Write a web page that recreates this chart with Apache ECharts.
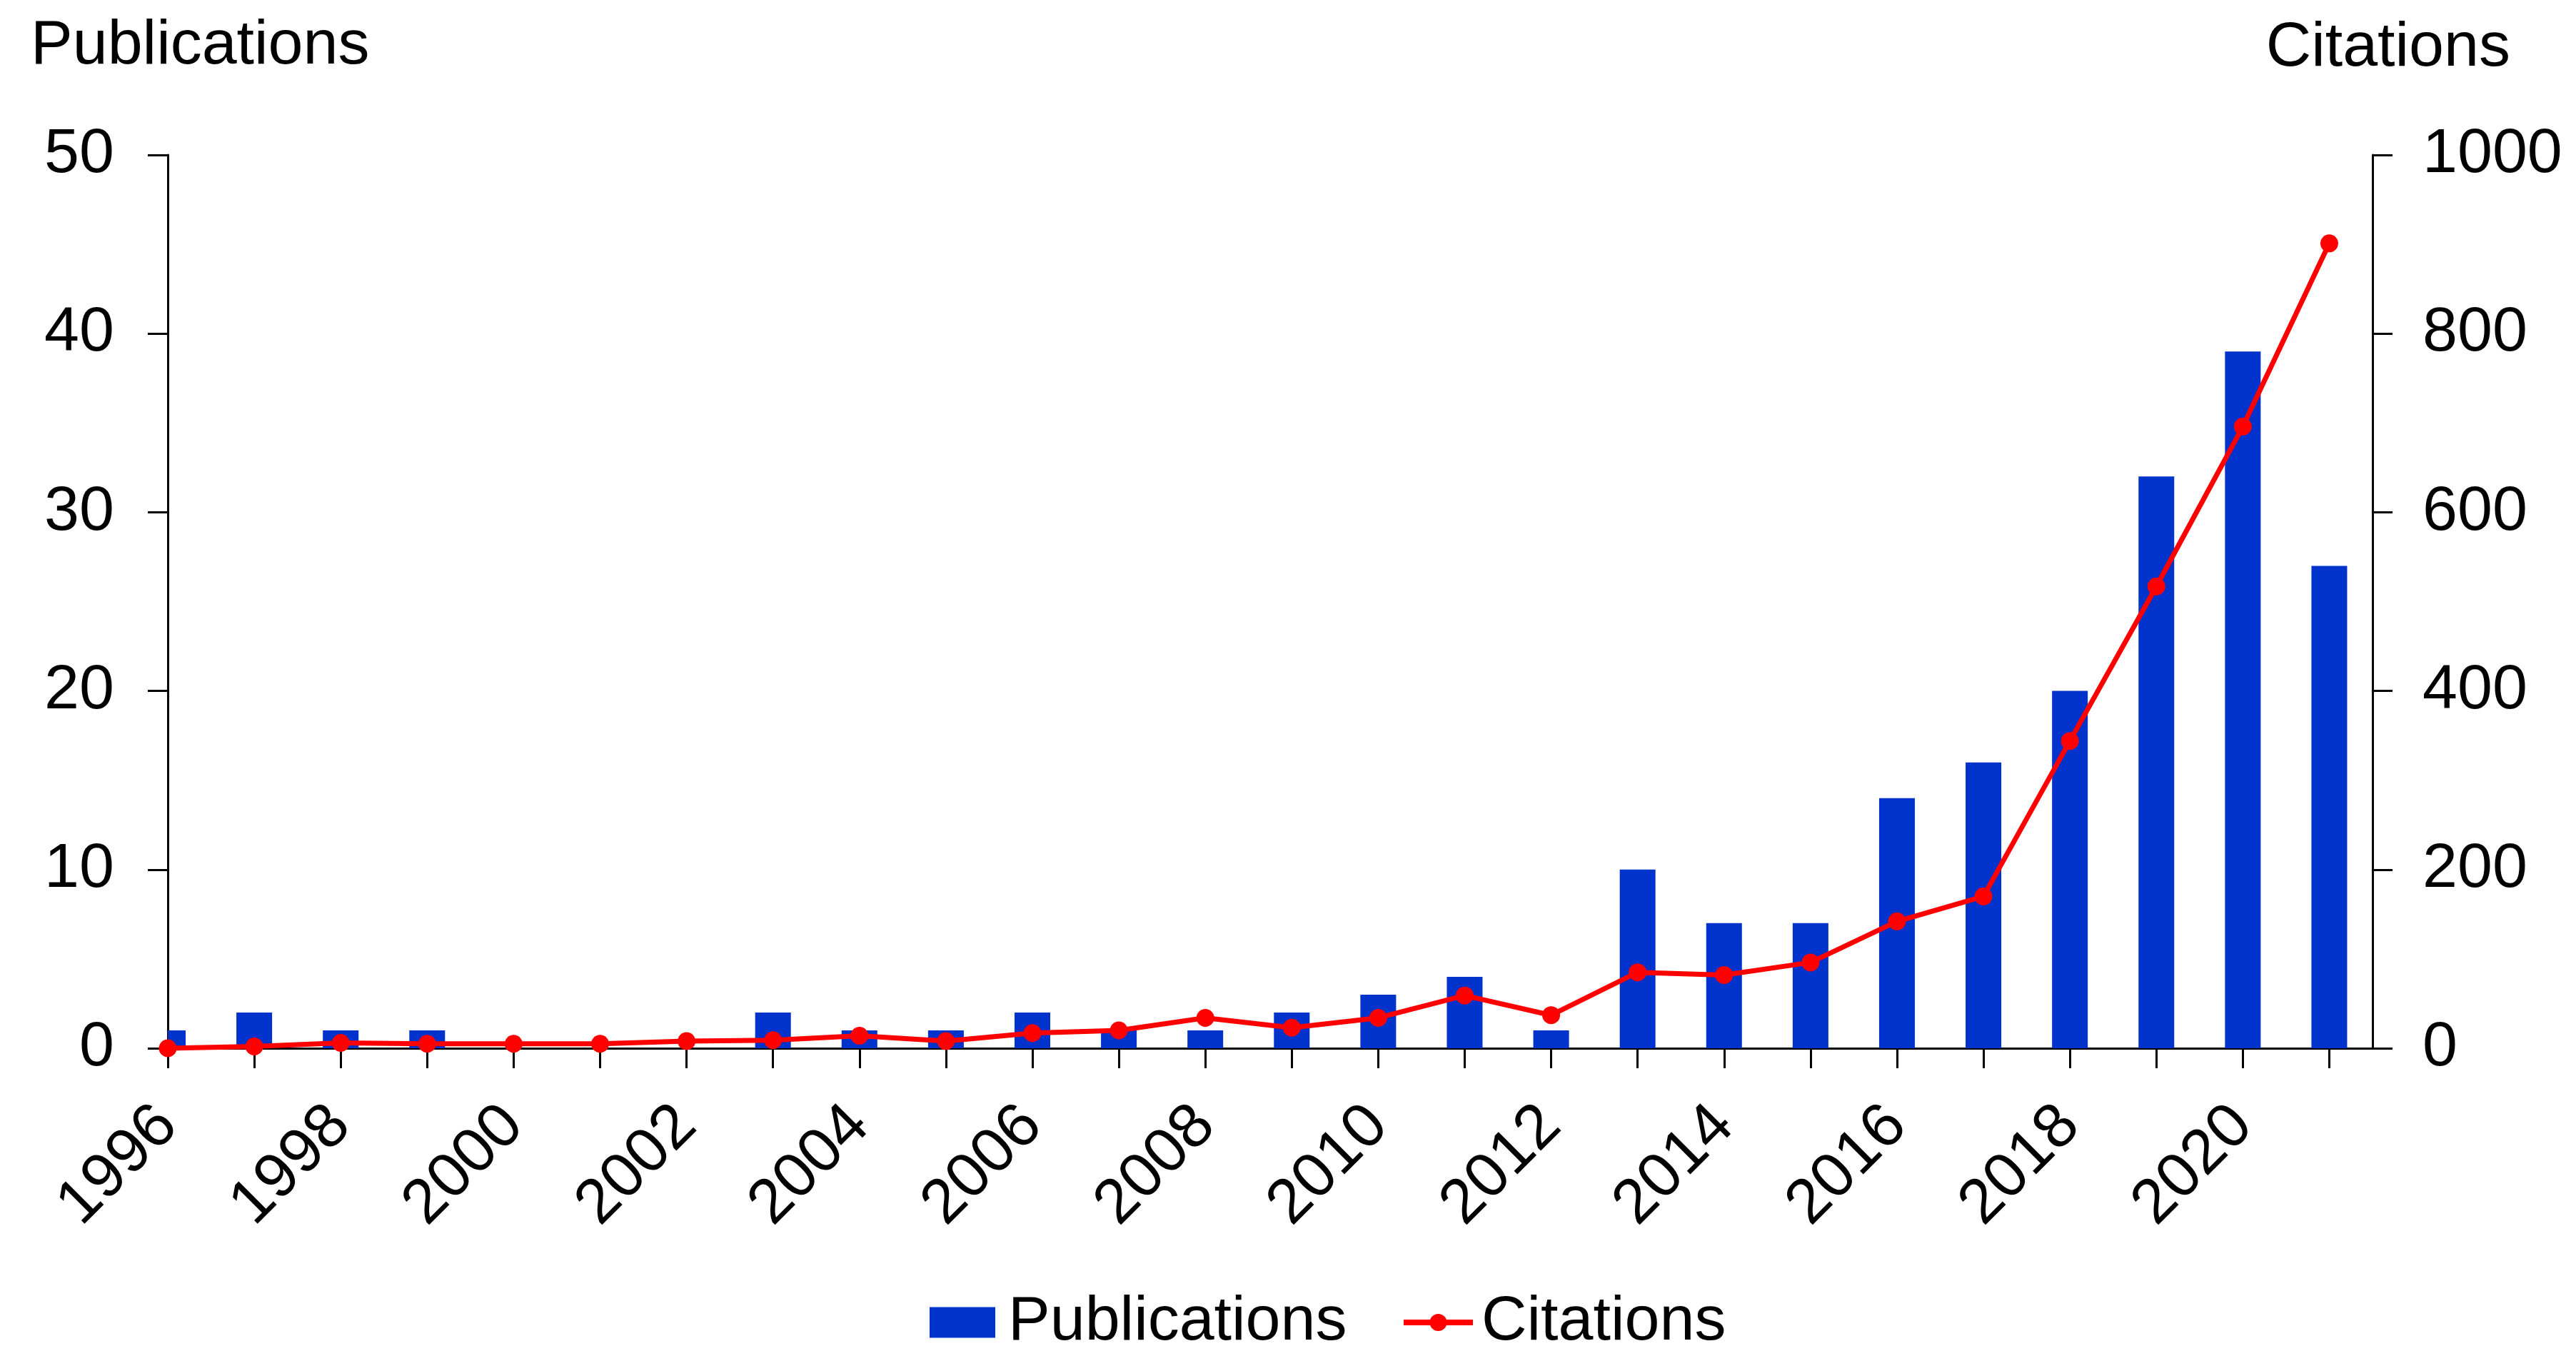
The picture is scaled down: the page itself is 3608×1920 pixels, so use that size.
<!DOCTYPE html>
<html>
<head>
<meta charset="utf-8">
<script src="https://cdn.jsdelivr.net/npm/echarts@6/dist/echarts.min.js"></script>
<style>
html,body{margin:0;padding:0;background:#fff;}
#chart{width:3608px;height:1920px;}
</style>
</head>
<body>
<div id="chart"></div>
<script>
const years = [1996,1997,1998,1999,2000,2001,2002,2003,2004,2005,2006,2007,2008,2009,2010,2011,2012,2013,2014,2015,2016,2017,2018,2019,2020,2021];
const publications = [1,2,1,1,0,0,0,2,1,1,2,1,1,2,3,4,1,10,7,7,14,16,20,32,39,27];
const citations = [0,2,6,5,5,5,8,9,14,8,17,20,34,23,34,59,37,85,82,96,142,170,344,517,696,901];
const xLabelYears = [1996,1998,2000,2002,2004,2006,2008,2010,2012,2014,2016,2018,2020];
const leftAxisName = 'Publications';
const rightAxisName = 'Citations';

const FONT = "'Liberation Sans', Arial, sans-serif";
const FS = 88;
const BLUE = '#0033CC';
const RED = '#FF0000';

const chart = echarts.init(document.getElementById('chart'), null, {renderer: 'canvas'});

const plain = function (v) { return String(v); };

const axisCommon = {
  axisLine: {show: true, lineStyle: {color: '#000', width: 3}},
  axisTick: {show: true, length: 28, inside: false, lineStyle: {color: '#000', width: 3}},
  splitLine: {show: false}
};

function renderBar(params, api) {
  const x = api.value(0);
  const v = api.value(1);
  const base = api.coord([x, 0]);
  const top = api.coord([x, v]);
  const w = api.size([1, 0])[0] * 0.413;
  const cs = params.coordSys;
  const rect = echarts.graphic.clipRectByRect(
    {x: base[0] - w / 2, y: top[1], width: w, height: base[1] - top[1]},
    {x: cs.x, y: cs.y, width: cs.width, height: cs.height}
  );
  if (!rect || v <= 0) { return null; }
  return {type: 'rect', shape: rect, style: api.style()};
}

chart.setOption({
  animation: false,
  backgroundColor: '#fff',
  title: [
    {text: leftAxisName, left: 43, top: 21, padding: 0,
     textStyle: {fontSize: FS, fontWeight: 'normal', color: '#000', fontFamily: FONT}},
    {text: rightAxisName, right: 92, top: 24, padding: 0,
     textStyle: {fontSize: FS, fontWeight: 'normal', color: '#000', fontFamily: FONT}}
  ],
  legend: [
    {data: [{name: 'Publications', icon: 'rect'}], left: 1302, top: 1808, padding: 0,
     itemWidth: 92, itemHeight: 43,
     textStyle: {fontSize: FS, color: '#000', fontFamily: FONT, padding: [0,0,0,13]}},
    {data: [{name: 'Citations'}], left: 1962, top: 1808, padding: 0,
     itemWidth: 97, itemHeight: 30, lineStyle: {width: 8},
     textStyle: {fontSize: FS, color: '#000', fontFamily: FONT, padding: [0,0,0,7]}}
  ],
  grid: {left: 235, right: 285, top: 217, bottom: 452, containLabel: false},
  xAxis: {
    type: 'value',
    min: years[0],
    max: years[years.length - 1] + 0.5,
    interval: 1,
    axisLine: {show: true, onZero: false, lineStyle: {color: '#000', width: 3}},
    axisTick: {show: true, length: 28, lineStyle: {color: '#000', width: 3}, customValues: years},
    splitLine: {show: false},
    axisLabel: {
      color: '#000', fontSize: FS, fontFamily: FONT, rotate: 45, margin: 95,
      customValues: xLabelYears,
      formatter: plain
    }
  },
  yAxis: [
    Object.assign({}, axisCommon, {
      type: 'value', position: 'left', min: 0, max: 50, interval: 10,
      axisLabel: {color: '#000', fontSize: FS, fontFamily: FONT, margin: 75, formatter: plain}
    }),
    Object.assign({}, axisCommon, {
      type: 'value', position: 'right', min: 0, max: 1000, interval: 200,
      axisLabel: {color: '#000', fontSize: FS, fontFamily: FONT, margin: 70, formatter: plain}
    })
  ],
  series: [
    {
      name: 'Publications',
      type: 'custom',
      yAxisIndex: 0,
      clip: true,
      renderItem: renderBar,
      itemStyle: {color: BLUE},
      encode: {x: 0, y: 1},
      data: years.map(function (y, i) { return [y, publications[i]]; })
    },
    {
      name: 'Citations',
      type: 'line',
      yAxisIndex: 1,
      symbol: 'circle',
      symbolSize: 25,
      showAllSymbol: true,
      clip: false,
      lineStyle: {color: RED, width: 7},
      itemStyle: {color: RED},
      z: 5,
      data: years.map(function (y, i) { return [y, citations[i]]; })
    }
  ]
});
</script>
</body>
</html>
